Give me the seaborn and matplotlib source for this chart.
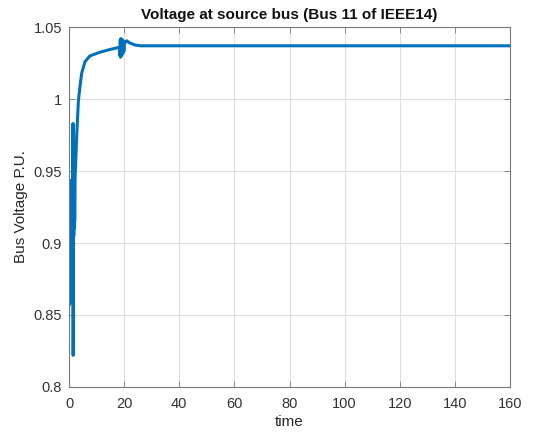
import matplotlib
matplotlib.use("Agg")
import matplotlib.pyplot as plt
import seaborn as sns
import pandas as pd

time = [0.0, 0.08, 0.16, 0.24, 0.32, 0.40, 0.48, 0.56, 0.64, 0.72, 0.80, 0.88, 0.96,
        1.04, 1.12, 1.20, 1.28, 1.36, 1.45, 1.50, 1.56, 1.64, 1.72, 1.80, 1.88, 1.96,
        2.05, 2.2, 2.8, 3.4, 4.0, 4.6, 5.8, 7.6,
        11.2, 15.0, 17.3, 18.3, 18.5, 18.6, 18.7, 18.85, 19.0, 19.15, 19.3, 19.45,
        19.6, 19.75, 19.9, 20.05, 20.3, 20.9, 22.0, 24.0, 26.0, 30.0, 160.0]
voltage = [0.90, 0.944, 0.857, 0.943, 0.858, 0.942, 0.86, 0.94, 0.862, 0.938, 0.865, 0.936, 0.87,
           0.934, 0.872, 0.935, 0.875, 0.936, 0.983, 0.822, 0.905, 0.94, 0.905, 0.942, 0.91, 0.944,
           0.915, 0.945, 0.975, 0.999, 1.009, 1.018, 1.026, 1.030,
           1.0325, 1.0345, 1.0355, 1.036, 1.030, 1.041, 1.029, 1.042, 1.030, 1.041, 1.031, 1.041,
           1.032, 1.040, 1.033, 1.040, 1.039, 1.0405, 1.039, 1.0375, 1.037, 1.037, 1.037]

xticks = [0, 20, 40, 60, 80, 100, 120, 140, 160]
yticks = [0.8, 0.85, 0.9, 0.95, 1.0, 1.05]
yticklabels = ["0.8", "0.85", "0.9", "0.95", "1", "1.05"]

df = pd.DataFrame({"time": time, "voltage": voltage})

sns.set_theme(style="whitegrid")
plt.rcParams['font.family'] = ['Liberation Sans', 'DejaVu Sans']

fig = plt.figure(figsize=(5.38, 4.4), dpi=100)
ax = fig.add_axes([0.1283, 0.1205, 0.8197, 0.818])
sns.lineplot(data=df, x="time", y="voltage", ax=ax, color="#0072BD",
             linewidth=2.2, sort=False, estimator=None)

ax.set_xlim(0, 160)
ax.set_ylim(0.8, 1.05)
ax.set_xticks(xticks)
ax.set_xticklabels([str(v) for v in xticks])
ax.set_yticks(yticks)
ax.set_yticklabels(yticklabels)
ax.grid(True, color="#dfdfdf", linewidth=0.8)
ax.set_facecolor("white")
for s in ax.spines.values():
    s.set_visible(True)
    s.set_color("#7a7a7a")
    s.set_linewidth(0.8)
ax.tick_params(direction="in", length=4, width=0.6, colors="#7a7a7a",
               labelcolor="#333333", labelsize=10.5, top=True, right=True,
               bottom=True, left=True)
ax.tick_params(axis="x", pad=7)
ax.tick_params(axis="y", pad=5)
ax.set_xlabel("time", fontsize=11, color="#262626", labelpad=3)
ax.set_ylabel("Bus Voltage P.U.", fontsize=11, color="#262626", labelpad=4)
ax.set_title("Voltage at source bus (Bus 11 of IEEE14)", fontsize=11,
             fontweight="bold", color="#111111", pad=6)

fig.savefig("out.png", dpi=100)
